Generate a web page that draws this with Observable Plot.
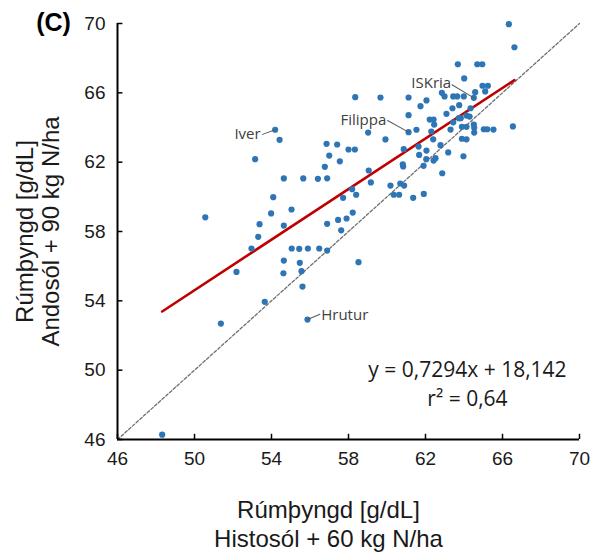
<!DOCTYPE html>
<html><head><meta charset="utf-8">
<script src="https://cdn.jsdelivr.net/npm/d3@7"></script>
<script src="https://cdn.jsdelivr.net/npm/@observablehq/plot@0.6"></script>
<style>html,body{margin:0;padding:0;background:#fff}svg{display:block}</style>
</head><body><div id="chart"></div>
<script>
// Rúmþyngd [g/dL]: Histosól + 60 kg N/ha (x) vs Andosól + 90 kg N/ha (y)
const histosol = [58.35,54.19,54.42,53.15,56.86,57.41,58.00,58.33,57.00,57.55,56.77,54.64,55.65,56.41,56.89,58.19,58.40,57.72,54.09,55.04,53.98,50.56,53.38,54.64,56.89,57.46,57.90,58.22,57.62,53.31,52.96,55.05,55.44,55.89,56.48,56.89,54.64,55.47,52.18,54.62,55.56,55.61,58.52,53.65,51.37,55.87,48.32,66.33,66.62,63.68,64.69,64.95,64.01,64.96,65.24,65.10,64.58,64.51,62.85,62.99,63.44,63.65,63.99,62.05,61.74,63.40,63.75,64.34,59.66,61.12,61.12,63.09,63.73,63.83,64.13,64.29,62.22,62.42,62.45,63.44,61.12,61.53,59.02,59.92,62.30,63.30,63.89,64.13,64.51,64.53,64.53,65.03,65.21,65.53,66.54,62.40,63.89,64.13,60.87,61.64,62.78,62.05,61.67,63.18,63.97,62.52,62.42,62.04,60.82,60.84,61.90,62.87,59.05,59.16,60.18,60.69,60.89,60.35,60.63,61.91,61.36];
const andosol = [65.75,63.87,63.29,62.17,63.06,63.02,62.73,62.73,62.38,62.05,61.73,61.06,61.06,61.04,61.07,60.44,60.12,59.94,59.98,59.27,59.04,58.82,58.42,58.34,58.44,58.67,58.75,59.09,58.07,57.69,57.02,57.02,57.00,57.02,57.02,56.90,56.32,56.19,55.67,55.59,55.71,54.82,56.23,53.94,52.69,52.92,46.28,69.96,68.63,67.65,67.65,67.65,66.83,66.41,66.41,66.08,66.04,65.71,66.00,65.79,65.79,65.79,65.79,65.56,65.23,65.11,65.29,65.11,65.73,65.73,64.71,64.79,64.54,64.54,64.69,64.63,64.46,64.46,64.17,64.30,63.73,63.87,63.71,63.31,63.77,63.88,64.04,64.04,64.17,63.98,63.71,63.90,63.90,63.88,64.06,63.32,63.35,63.32,62.75,62.90,62.98,62.67,62.42,62.56,62.34,62.23,62.09,62.17,61.88,61.75,61.79,61.36,61.52,60.83,60.65,60.77,60.65,60.12,60.12,60.17,59.94];
const ticks = [46, 50, 54, 58, 62, 66, 70];
const slope = 0.7294, intercept = 18.142, r2 = 0.64;
const labelNames = ["Iver", "Filippa", "ISKria", "Hrutur"];
const labelX = [54.19, 61.12, 64.51, 55.87];
const labelY = [63.87, 63.73, 65.71, 52.92];
const xTitle = "Rúmþyngd [g/dL]\nHistosól + 60 kg N/ha";
const yTitle = "Rúmþyngd [g/dL]\nAndosól + 90 kg N/ha";
const panel = "(C)";

// derived tables
const pts = histosol.map((x, i) => ({x, y: andosol[i]}));
const [xmin, xmax] = d3.extent(histosol);
const fit = [xmin, xmax].map(x => ({x, y: slope * x + intercept}));
const lo = ticks[0], hi = ticks[ticks.length - 1];
const diag = [lo, hi].map(v => ({x: v, y: v}));
const comma = v => String(v).replace(".", ",");
const eqText = `y = ${comma(slope)}x + ${comma(intercept)}\nr² = ${comma(r2.toFixed(2))}`;

// label layout (styles only)
const labelStyle = {
  Iver:    {anchor: "end",   dx: -14.5, dy: 4.7,   rotate: 250, length: 13.5},
  Filippa: {anchor: "end",   dx: -22.3, dy: -12.4, rotate: 299, length: 24},
  ISKria:  {anchor: "end",   dx: -22.6, dy: -14.6, rotate: 301, length: 25.5},
  Hrutur:  {anchor: "start", dx: 13.7,  dy: -4,    rotate: 67,  length: 13.5}
};
const labelMarks = labelNames.flatMap((name, i) => {
  const s = labelStyle[name];
  const d = [{x: labelX[i], y: labelY[i], name}];
  return [
    Plot.vector(d, {x: "x", y: "y", length: s.length, rotate: s.rotate, anchor: "start",
      shape: "spike", r: 0, stroke: "#595959", strokeWidth: 1, fill: "none"}),
    Plot.text(d, {x: "x", y: "y", text: "name", textAnchor: s.anchor, dx: s.dx, dy: s.dy,
      fontSize: 15, fontFamily: "Open Sans", fill: "#404040", lineAnchor: "middle"})
  ];
});

const blue = "#2E75B6";
const chart = Plot.plot({
  width: 600,
  height: 552,
  marginLeft: 117,
  marginRight: 21,
  marginTop: 23,
  marginBottom: 113,
  style: {fontFamily: "'Liberation Sans', Arial, sans-serif", fontSize: "19px", color: "#1a1a1a", background: "#fff"},
  x: {domain: [lo, hi]},
  y: {domain: [lo, hi]},
  marks: [
    Plot.line(diag, {x: "x", y: "y", stroke: "#6f6f6f", strokeWidth: 1.3, strokeDasharray: "3,2"}),
    Plot.line(fit, {x: "x", y: "y", stroke: "#C00000", strokeWidth: 2.6}),
    Plot.dot(pts, {x: "x", y: "y", r: 3.1, fill: blue, stroke: "none"}),
    ...labelMarks,
    Plot.ruleX([lo], {y1: lo, y2: hi, stroke: "#000", strokeWidth: 2}),
    Plot.ruleY([lo], {x1: lo, x2: hi, stroke: "#000", strokeWidth: 2}),
    Plot.ruleX(ticks, {x: d => d, y1: lo, y2: lo + 0.3, stroke: "#000", strokeWidth: 1.5}),
    Plot.ruleY(ticks, {y: d => d, x1: lo, x2: lo + 0.28, stroke: "#000", strokeWidth: 1.5}),
    Plot.axisX({ticks, tickSize: 0, tickPadding: 12, label: null, fontSize: 19, tickFormat: d => d}),
    Plot.axisY({ticks, tickSize: 0, tickPadding: 12, label: null, fontSize: 19, tickFormat: d => d}),
    Plot.text([eqText], {x: 64.18, y: 49.3, text: d => d, textAnchor: "middle", lineAnchor: "middle",
      lineHeight: 1.35, fontSize: 21, fontFamily: "Open Sans", fill: "#1a1a1a"}),
    Plot.text([xTitle], {frameAnchor: "bottom", text: d => d, textAnchor: "middle", dx: -20, dy: 83.5,
      lineAnchor: "middle", lineHeight: 1.2, fontSize: 24, fill: "#1a1a1a"}),
    Plot.text([yTitle], {frameAnchor: "left", text: d => d, textAnchor: "middle", rotate: -90, dx: -79.5,
      lineAnchor: "middle", lineHeight: 1.05, fontSize: 24, fill: "#1a1a1a"}),
    Plot.text([panel], {frameAnchor: "top-left", text: d => d, dx: -64, dy: -1, textAnchor: "middle",
      lineAnchor: "middle", fontSize: 25, fontWeight: "bold", fill: "#000"})
  ]
});
document.getElementById("chart").append(chart);
</script>
</body></html>
